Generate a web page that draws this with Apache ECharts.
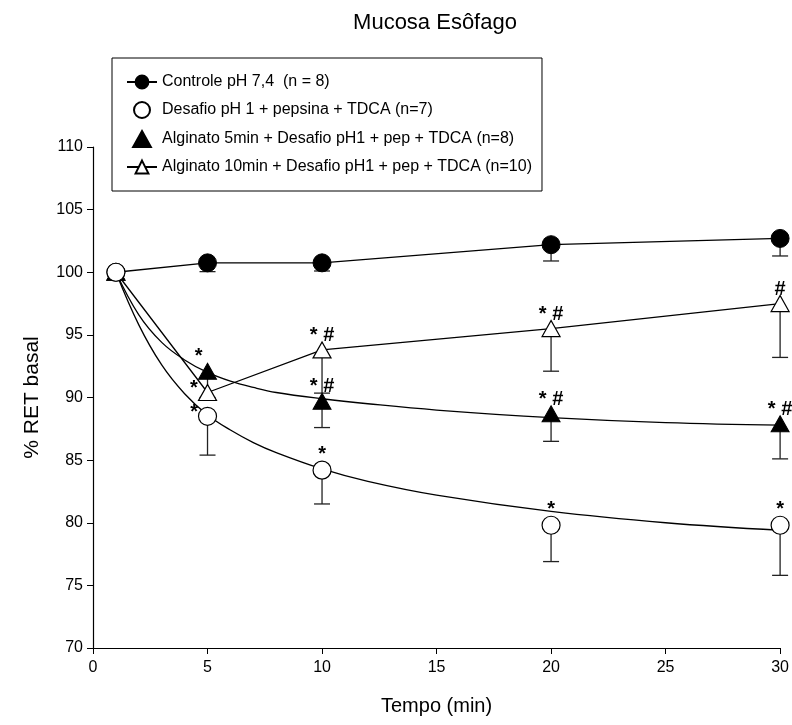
<!DOCTYPE html>
<html>
<head>
<meta charset="utf-8">
<script src="https://cdn.jsdelivr.net/npm/echarts@6/dist/echarts.min.js"></script>
<style>
  html, body { margin: 0; padding: 0; background: #fff; }
  #chart { width: 792px; height: 725px; }
</style>
</head>
<body>
<div id="chart"></div>
<script>
// Sampling times (min)
const times = [1, 5, 10, 20, 30];

// Mean % of basal RET per group, with the lower end of each error bar
const controle    = [100, 100.75, 100.75, 102.2, 102.7];
const controleLow = [100, 100.05, 100.1, 100.9, 101.3];

const desafio    = [100, 88.5, 84.2, 79.8, 79.8];
const desafioLow = [100, 85.4, 81.5, 76.9, 75.8];

const alg5    = [100, 92.1, 89.7, 88.7, 87.9];
const alg5Low = [100, 90.0, 87.6, 86.5, 85.1];

const alg10    = [100, 90.4, 93.8, 95.5, 97.5];
const alg10Low = [100, 89.8, 90.35, 92.1, 93.2];

// Significance marks above each point
const sigDesafio = ['', '*', '*', '*', '*'];
const sigAlg5    = ['', '*', '* #', '* #', '* #'];
const sigAlg10   = ['', '*', '* #', '* #', '#'];

// Fitted decay curves (values along the curve)
const curveT     = [1, 2, 3, 4, 5, 6, 7, 8, 10, 12, 15, 20, 25, 30];
const desafioFit = [100, 95.8, 92.6, 90.3, 88.6, 87.4, 86.4, 85.6, 84.3, 83.3, 82.2, 80.9, 80.0, 79.4];
const alg5Fit    = [100, 96.6, 94.4, 93.0, 92.0, 91.3, 90.8, 90.4, 89.9, 89.5, 89.0, 88.4, 88.0, 87.8];

// Legend names
const names = [
  'Controle pH 7,4  (n = 8)',
  'Desafio pH 1 + pepsina + TDCA (n=7)',
  'Alginato 5min + Desafio pH1 + pep + TDCA (n=8)',
  'Alginato 10min + Desafio pH1 + pep + TDCA (n=10)'
];

const FONT = "'Liberation Sans', Arial, Helvetica, sans-serif";
const TRIANGLE = 'path://M5,0 L10,9 L0,9 Z';

const pairs = (xs, ys) => xs.map((x, i) => [x, ys[i]]);

// leftIdx: points whose mark sits to the left of the symbol
// shiftIdx: single marks nudged to the star slot of a "* #" pair
function withMarks(ys, marks, leftIdx, shiftIdx) {
  return times.map((t, i) => {
    const item = { value: [t, ys[i]] };
    if (marks[i]) {
      const left = leftIdx.indexOf(i) >= 0;
      const shift = shiftIdx.indexOf(i) >= 0 ? -9 : 0;
      item.label = {
        show: true,
        formatter: marks[i],
        position: left ? 'left' : 'top',
        distance: 0,
        offset: left ? [0, -4] : [shift, 4],
        color: '#000',
        fontSize: 20,
        fontWeight: 'bold',
        fontFamily: FONT
      };
    }
    return item;
  });
}

function errorSeries(ys, lows, z) {
  return {
    type: 'custom',
    z: z,
    silent: true,
    data: times.map((t, i) => [t, ys[i], lows[i]]),
    encode: { x: 0, y: [1, 2] },
    renderItem: function (params, api) {
      const p = api.coord([api.value(0), api.value(1)]);
      const q = api.coord([api.value(0), api.value(2)]);
      if (q[1] - p[1] < 0.5) return null;
      const st = { stroke: '#222', lineWidth: 1.3 };
      return {
        type: 'group',
        children: [
          { type: 'line', shape: { x1: p[0], y1: p[1], x2: p[0], y2: q[1] }, style: st },
          { type: 'line', shape: { x1: p[0] - 8, y1: q[1], x2: p[0] + 8, y2: q[1] }, style: st }
        ]
      };
    }
  };
}

const chart = echarts.init(document.getElementById('chart'), null, { renderer: 'canvas' });

chart.setOption({
  animation: false,
  backgroundColor: '#fff',
  textStyle: { fontFamily: FONT, color: '#000' },
  title: {
    text: 'Mucosa Esôfago',
    left: 430,
    textAlign: 'center',
    top: 7,
    textStyle: { fontFamily: FONT, fontSize: 22, fontWeight: 'normal', color: '#000' }
  },
  legend: {
    data: [
      { name: names[0] },
      { name: names[1] },
      { name: names[2], icon: TRIANGLE },
      { name: names[3] }
    ],
    orient: 'vertical',
    left: 112,
    top: 58,
    padding: [16, 10, 16, 14],
    itemGap: 11,
    itemWidth: 30,
    itemHeight: 16,
    borderColor: '#000',
    borderWidth: 1,
    borderRadius: 0,
    selectedMode: false,
    textStyle: { fontFamily: FONT, fontSize: 16, color: '#000' }
  },
  grid: { left: 93, right: 9, top: 147, bottom: 77, containLabel: false },
  xAxis: {
    type: 'value',
    min: 0, max: 30, interval: 5,
    name: 'Tempo (min)',
    nameLocation: 'middle',
    nameGap: 48,
    nameTextStyle: { fontFamily: FONT, fontSize: 20, color: '#000' },
    axisLine: { onZero: false, lineStyle: { color: '#000', width: 1.2 } },
    axisTick: { show: true, length: 6, lineStyle: { color: '#000' } },
    axisLabel: { fontFamily: FONT, fontSize: 16, color: '#000', margin: 12 },
    splitLine: { show: false }
  },
  yAxis: {
    type: 'value',
    min: 70, max: 110, interval: 5,
    name: '% RET basal',
    nameLocation: 'middle',
    nameGap: 50,
    nameRotate: 90,
    nameTextStyle: { fontFamily: FONT, fontSize: 21, color: '#000' },
    axisLine: { show: true, lineStyle: { color: '#000', width: 1.2 } },
    axisTick: { show: true, length: 6, lineStyle: { color: '#000' } },
    axisLabel: { fontFamily: FONT, fontSize: 16, color: '#000', margin: 10 },
    splitLine: { show: false }
  },
  series: [
    errorSeries(controle, controleLow, 1),
    errorSeries(desafio, desafioLow, 1),
    errorSeries(alg5, alg5Low, 1),
    errorSeries(alg10, alg10Low, 1),
    {
      name: 'desafio-curve',
      type: 'line',
      z: 2,
      data: pairs(curveT, desafioFit),
      smooth: 0.4,
      showSymbol: false,
      silent: true,
      lineStyle: { color: '#000', width: 1.3 }
    },
    {
      name: 'alg5-curve',
      type: 'line',
      z: 2,
      data: pairs(curveT, alg5Fit),
      smooth: 0.4,
      showSymbol: false,
      silent: true,
      lineStyle: { color: '#000', width: 1.3 }
    },
    {
      name: names[0],
      type: 'line',
      z: 3,
      data: pairs(times, controle),
      symbol: 'circle',
      symbolSize: 18,
      itemStyle: { color: '#000', borderColor: '#000', borderWidth: 1, opacity: 1 },
      lineStyle: { color: '#000', width: 1.3 }
    },
    {
      name: names[3],
      type: 'line',
      z: 4,
      data: withMarks(alg10, sigAlg10, [1], []),
      symbol: 'triangle',
      symbolSize: [18, 16],
      showAllSymbol: true,
      itemStyle: { color: '#fff', borderColor: '#000', borderWidth: 1.2, opacity: 1 },
      lineStyle: { color: '#000', width: 1.3 }
    },
    {
      name: names[2],
      type: 'scatter',
      z: 5,
      data: withMarks(alg5, sigAlg5, [], [1]),
      symbol: 'triangle',
      symbolSize: [18, 16],
      itemStyle: { color: '#000', borderColor: '#000', borderWidth: 1, opacity: 1 }
    },
    {
      name: names[1],
      type: 'scatter',
      z: 6,
      data: withMarks(desafio, sigDesafio, [1], []),
      symbol: 'circle',
      symbolSize: 18,
      itemStyle: { color: '#fff', borderColor: '#000', borderWidth: 1.2, opacity: 1 }
    }
  ]
});
</script>
</body>
</html>
